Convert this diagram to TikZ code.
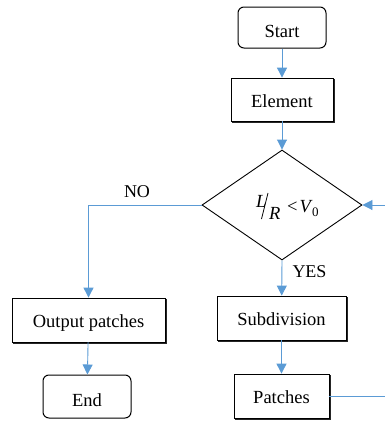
\documentclass[tikz,border=0pt]{standalone}
\usepackage{fontspec}
\setmainfont{Liberation Serif}
\usetikzlibrary{arrows.meta,shapes.geometric}
\definecolor{flowblue}{HTML}{5B9BD5}
\tikzset{
  box/.style={draw=black, line width=0.8pt, fill=white, inner sep=0pt,
    font=\fontsize{18.5}{21}\selectfont, text height=15pt, text depth=0pt,
    preaction={draw=black!85, line width=0.8pt, transform canvas={xshift=1.3pt,yshift=-1.3pt}}},
  terminal/.style={draw=black, line width=1pt, fill=white, inner sep=0pt,
    rounded corners=6pt, font=\fontsize{18.5}{21}\selectfont,
    text height=19pt, text depth=0pt},
  decision/.style={draw=black, line width=0.9pt, diamond, inner sep=0pt,
    aspect=1.4545, minimum width=160pt, minimum height=110pt},
  formula/.style={inner sep=0pt, anchor=base west, font=\fontsize{18.5}{21}\selectfont},
  conn/.style={draw=flowblue, line width=0.9pt,
    -{Triangle[length=10pt,width=10pt]}},
  tag/.style={inner sep=0pt, font=\fontsize{18}{21}\selectfont}
}
\begin{document}
\begin{tikzpicture}[x=1pt,y=-1pt]
\useasboundingbox (0,0) rectangle (385,423);
\clip (0,0) rectangle (385,423);

% main column
\node[terminal, minimum width=88pt, minimum height=41pt] (start) at (282,27.5) {Start};
\node[box, minimum width=102pt, minimum height=43pt] (element) at (282,99.5) {Element};
\node[decision] (test) at (282,205) {};

% condition inside the decision: slashed fraction L/R, then "< V_0"
\node[formula] (num) at (256,207) {\itshape L};
\node[formula] (den) at (269,219) {\itshape R};
\draw[line width=0.8pt] (261.5,219) -- (268,193);
\node[formula] (bound) at (287,212)
  {<\kern2pt\textit{V}\kern-0.5pt\raisebox{-4pt}{\fontsize{13}{15}\selectfont 0}};

\node[box, minimum width=129pt, minimum height=44pt] (subdiv) at (281.5,318) {Subdivision};
\node[box, minimum width=95pt, minimum height=44pt] (patches) at (281.5,396) {Patches};

% left column
\node[box, minimum width=153pt, minimum height=44pt] (output) at (88.5,320) {Output patches};
\node[terminal, minimum width=88pt, minimum height=43pt] (end) at (87,396.5) {End};

% branch labels
\node[tag, anchor=base] (no) at (137,197) {NO};
\node[tag, anchor=base] (yes) at (309.5,277) {YES};

% connectors
\draw[conn] (start) -- (element);
\draw[conn] (element) -- (test.north);
\draw[conn] (test.south) -- (subdiv);
\draw[conn] (subdiv) -- (patches);
\draw[conn] (test.west) -| (output.north);
\draw[conn] (output) -- (end);
\coordinate (loop) at (392,396);
\draw[conn] (patches.east) -- (loop) |- (test.east);
\end{tikzpicture}
\end{document}
